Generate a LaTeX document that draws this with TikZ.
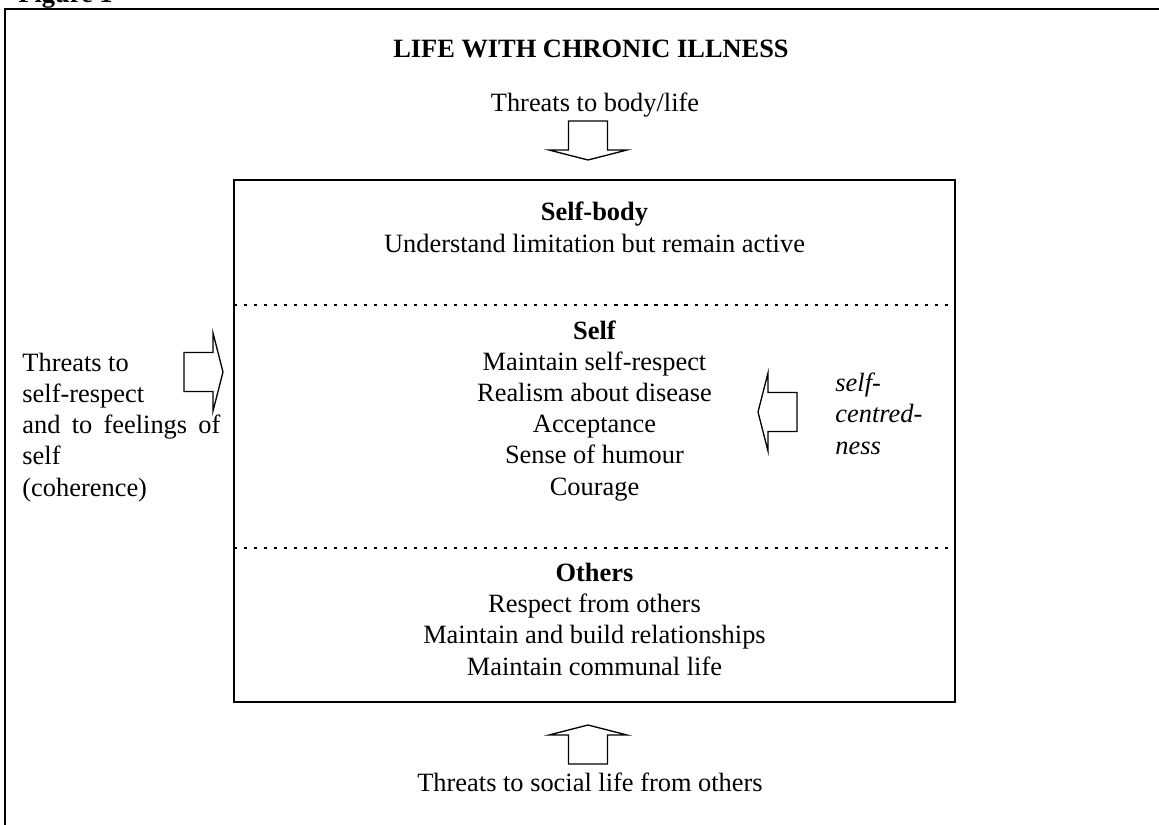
\documentclass[tikz,border=0pt]{standalone}
\usepackage{fontspec}
\setmainfont{Liberation Serif}
\usepackage{tikz}
\usetikzlibrary{positioning}
\tikzset{
 txt/.style={font=\fontsize{12pt}{14.1pt}\selectfont,inner sep=0pt,align=center},
 headtxt/.style={txt,font=\fontsize{12pt}{14.1pt}\selectfont\bfseries},
 slanttxt/.style={txt,align=left,font=\fontsize{12pt}{14.1pt}\selectfont\itshape},
 frameline/.style={line width=0.9pt,draw=black},
 dotline/.style={line width=0.9pt,dash pattern=on 1.4pt off 3.15pt},
 blockarrow/.pic={\draw[line width=0.6pt,miter limit=20]
   (0,-19.5) -- (29,-19.5) -- (29,-39) -- (39,0) -- (29,39) -- (29,19.5) -- (0,19.5) -- cycle;}
}
\begin{document}
\begin{tikzpicture}[x=0.4545pt,y=-0.4545pt]
 \useasboundingbox (0,0) rectangle (1159,825);
 % outer frame, runs off the page to the right and bottom
 \draw[frameline] (5,9) rectangle (1180,850);
 \node[headtxt,anchor=base west] (fig) at (18,3) {Figure 1};
 \node[headtxt,anchor=base] (title) at (591,57) {LIFE WITH CHRONIC ILLNESS};
 \node[txt,anchor=base] (bodythreat) at (595,112) {Threats to body/life};
 % core box and its three parts (base = last line)
 \coordinate (corenw) at (234,180);
 \coordinate (corese) at (955,702);
 \draw[frameline] (corenw) rectangle (corese);
 \draw[dotline] (234,305) -- (955,305);
 \draw[dotline] (234,548) -- (955,548);
 \node[txt,anchor=base] (selfbody) at (594.5,252) {\textbf{Self-body}\\Understand limitation but remain active};
 \node[txt,anchor=base] (self) at (594.5,495) {\textbf{Self}\\Maintain self-respect\\Realism about disease\\Acceptance\\Sense of humour\\Courage};
 \node[txt,anchor=base] (others) at (594.5,675) {\textbf{Others}\\Respect from others\\Maintain and build relationships\\Maintain communal life};
 % side and bottom threats
 \node[txt,align=left,anchor=base west] (selfthreat) at (22,496)
   {Threats to\\self-respect\\\makebox[90pt][s]{and to feelings of}\\self\\(coherence)};
 \node[slanttxt,anchor=base west] (centred) at (835,454) {self-\\centred-\\ness};
 \node[txt,anchor=base] (socialthreat) at (590,791) {Threats to social life from others};
 % block arrows
 \pic[rotate=-90] at (588,121) {blockarrow};
 \pic at (184,372) {blockarrow};
 \pic[rotate=180] at (797,412) {blockarrow};
 \pic[rotate=90] at (588,764) {blockarrow};
\end{tikzpicture}
\end{document}
